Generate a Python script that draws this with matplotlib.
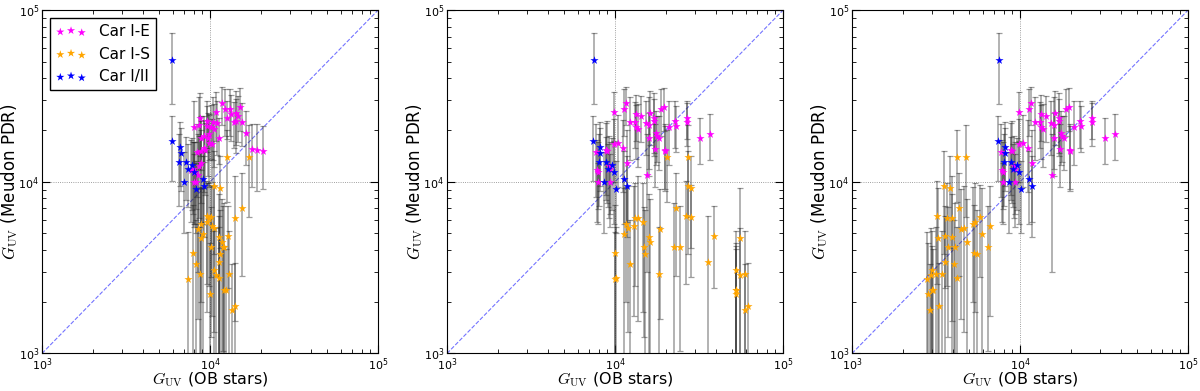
import numpy as np
import matplotlib
matplotlib.use("Agg")
import matplotlib.pyplot as plt
from matplotlib.ticker import LogLocator

plt.rcParams['mathtext.fontset'] = 'cm'

# --- data: G_UV (Meudon PDR) vs G_UV (OB stars), three estimates of the OB-star field ---
# Car I-E
mag_y = [28620, 27370, 26540, 26540, 25390, 25160, 24720, 24270, 23550, 23440, 22620,
         22520, 22420, 22420, 22420, 22030, 21450, 21260, 20980, 20800, 20330, 19270,
         19110, 18610, 18120, 18000, 17960, 16880, 16660, 15800, 15590, 15240, 15240,
         15100, 15040, 14910, 12880, 12320, 11840, 11680, 11430, 11030, 9960, 9910]
mag_x1 = [11720, 15070, 13150, 12270, 10850, 14260, 13330, 14720, 12560, 8720, 9550,
          14260, 10420, 13890, 15420, 11060, 8650, 9640, 8040, 10100, 10570, 16370,
          9910, 9210, 11300, 8800, 9770, 9910, 10330, 9210, 17850, 18930, 9290,
          8880, 20750, 8340, 8900, 8650, 7960, 7710, 8150, 8530, 8040, 8300]
mag_x23 = [11630, 19670, 11260, 18870, 9860, 16070, 13400, 14220, 26830, 17140, 22650,
           16980, 12230, 13090, 26830, 15370, 15850, 23170, 21060, 13400, 13650, 17620,
           36780, 17780, 31920, 18200, 15850, 10420, 9810, 11160, 17220, 19750, 8830,
           8990, 19930, 7750, 11790, 9160, 9380, 7820, 7870, 15420, 9380, 7890]
mag_rel = [0.25, 0.28, 0.3, 0.3, 0.32, 0.35, 0.3, 0.3, 0.25, 0.4, 0.3,
           0.35, 0.4, 0.3, 0.28, 0.35, 0.45, 0.3, 0.4, 0.35, 0.4, 0.35,
           0.3, 0.3, 0.3, 0.35, 0.4, 0.45, 0.4, 0.45, 0.4, 0.42, 0.45,
           0.5, 0.4, 0.45, 0.55, 0.5, 0.45, 0.5, 0.5, 0.73, 0.45, 0.3]

# Car I-S
org_y = [13890, 13890, 9440, 9150, 7075, 6360, 6220, 6195, 6140, 5820, 5690, 5540, 5370,
         5325, 4985, 4810, 4745, 4703, 4440, 4175, 4155, 4155, 3853, 3820, 3418, 3340,
         3060, 2887, 2887, 2850, 2737, 2701, 2213, 2355, 2330, 1878, 1788]
org_x1 = [12620, 17130, 10510, 11470, 15560, 9550, 10140, 14080, 9910, 9550, 8840, 10230, 10570,
          8530, 9040, 12740, 11260, 8900, 11850, 10140, 12170, 11880, 7890, 11470, 11360, 8220,
          10570, 12910, 8730, 10850, 11240, 7360, 10000, 12160, 12440, 14010, 13580]
org_x2 = [20390, 27070, 27320, 28470, 22960, 26340, 28340, 13650, 13150, 14610, 11680, 12910, 11950,
          18530, 11370, 38670, 15870, 55210, 16080, 14810, 22340, 24260, 10050, 15150, 35620, 12340,
          52270, 59150, 18360, 55720, 10190, 10000, 52270, 52500, 52800, 61900, 59000]
org_x3 = [4223, 4800, 3517, 3855, 4320, 3210, 5815, 3945, 3700, 5400, 5235, 6605, 4630,
          4462, 5950, 3565, 3945, 3253, 4840, 3733, 4090, 6430, 5310, 5560, 3597, 4070,
          3000, 3436, 3180, 2970, 4223, 2800, 2840, 3010, 3030, 3296, 2900]
org_rel = [0.45, 0.55, 0.6, 0.55, 0.6, 0.6, 0.55, 0.75, 0.6, 0.7, 0.65, 0.7, 0.75,
           0.7, 0.85, 0.5, 0.8, 0.95, 0.8, 0.7, 0.8, 0.75, 0.9, 0.8, 0.85, 0.8,
           0.7, 0.8, 0.9, 0.9, 1.0, 0.9, 1.0, 0.8, 0.75, 0.8, 0.85]

# Car I/II
blue_y = [50940, 17180, 15860, 14780, 13110, 13050, 12480, 11840, 11370, 10000, 10360, 9480, 9110]
blue_x1 = [5970, 5910, 6640, 6760, 6540, 7200, 7780, 7360, 8070, 7040, 9040, 9210, 8260]
blue_x23 = [7460, 7360, 8100, 8180, 8030, 8840, 9550, 9040, 9910, 8600, 11370, 11790, 10180]
blue_rel = [0.44, 0.41, 0.4, 0.4, 0.45, 0.4, 0.45, 0.4, 0.5, 0.5, 0.45, 0.5, 0.45]

labels = ['Car I-E', 'Car I-S', 'Car I/II']
colors = ['magenta', 'orange', 'blue']
lims = [1e3, 1e5]

panels = [(mag_x1, org_x1, blue_x1),
          (mag_x23, org_x2, blue_x23),
          (mag_x23, org_x3, blue_x23)]
ys = [mag_y, org_y, blue_y]
rels = [mag_rel, org_rel, blue_rel]

fig = plt.figure(figsize=(12, 3.91), dpi=100)
lefts = [0.035, 0.3725, 0.71]

for n, (left, xs) in enumerate(zip(lefts, panels)):
    ax = fig.add_axes([left, 0.096, 0.28, 0.878])
    ax.set_xscale('log')
    ax.set_yscale('log')
    ax.axhline(1e4, color='gray', ls=':', lw=0.6, zorder=0)
    ax.axvline(1e4, color='gray', ls=':', lw=0.6, zorder=0)
    ax.plot(lims, lims, '--', color='blue', lw=0.8, alpha=0.55, zorder=1)

    for x, y, r in zip(xs, ys, rels):
        y = np.array(y, dtype=float)
        ax.errorbar(x, y, yerr=y * np.array(r), fmt='none', ecolor='0.15', alpha=0.45,
                    elinewidth=1.1, capsize=2, capthick=0.9, zorder=2)
    for x, y, c, lab in zip(xs, ys, colors, labels):
        ax.scatter(x, y, marker='*', s=38, color=c, linewidths=0, label=lab, zorder=3)

    ax.set_xlim(lims)
    ax.set_ylim(lims)
    ax.xaxis.set_minor_locator(LogLocator(base=10, subs=np.arange(2, 10)))
    ax.yaxis.set_minor_locator(LogLocator(base=10, subs=np.arange(2, 10)))
    ax.tick_params(which='both', direction='in', top=True, right=True, labelsize=8)
    ax.tick_params(axis='x', pad=2)
    ax.tick_params(axis='y', pad=2)
    ax.tick_params(which='major', length=6)
    ax.tick_params(which='minor', length=3)
    ax.set_xlabel(r'$G_{\rm UV}$ (OB stars)', fontsize=11.5)
    ax.set_ylabel(r'$G_{\rm UV}$ (Meudon PDR)', fontsize=12)
    ax.xaxis.set_label_coords(0.5, -0.05)
    ax.yaxis.set_label_coords(-0.064, 0.5)

    if n == 0:
        ax.legend(loc='upper left', scatterpoints=3, scatteryoffsets=[0.375, 0.5, 0.3125],
                  fancybox=False, edgecolor='k', framealpha=1, fontsize=11)

fig.savefig('out.png', dpi=100)
